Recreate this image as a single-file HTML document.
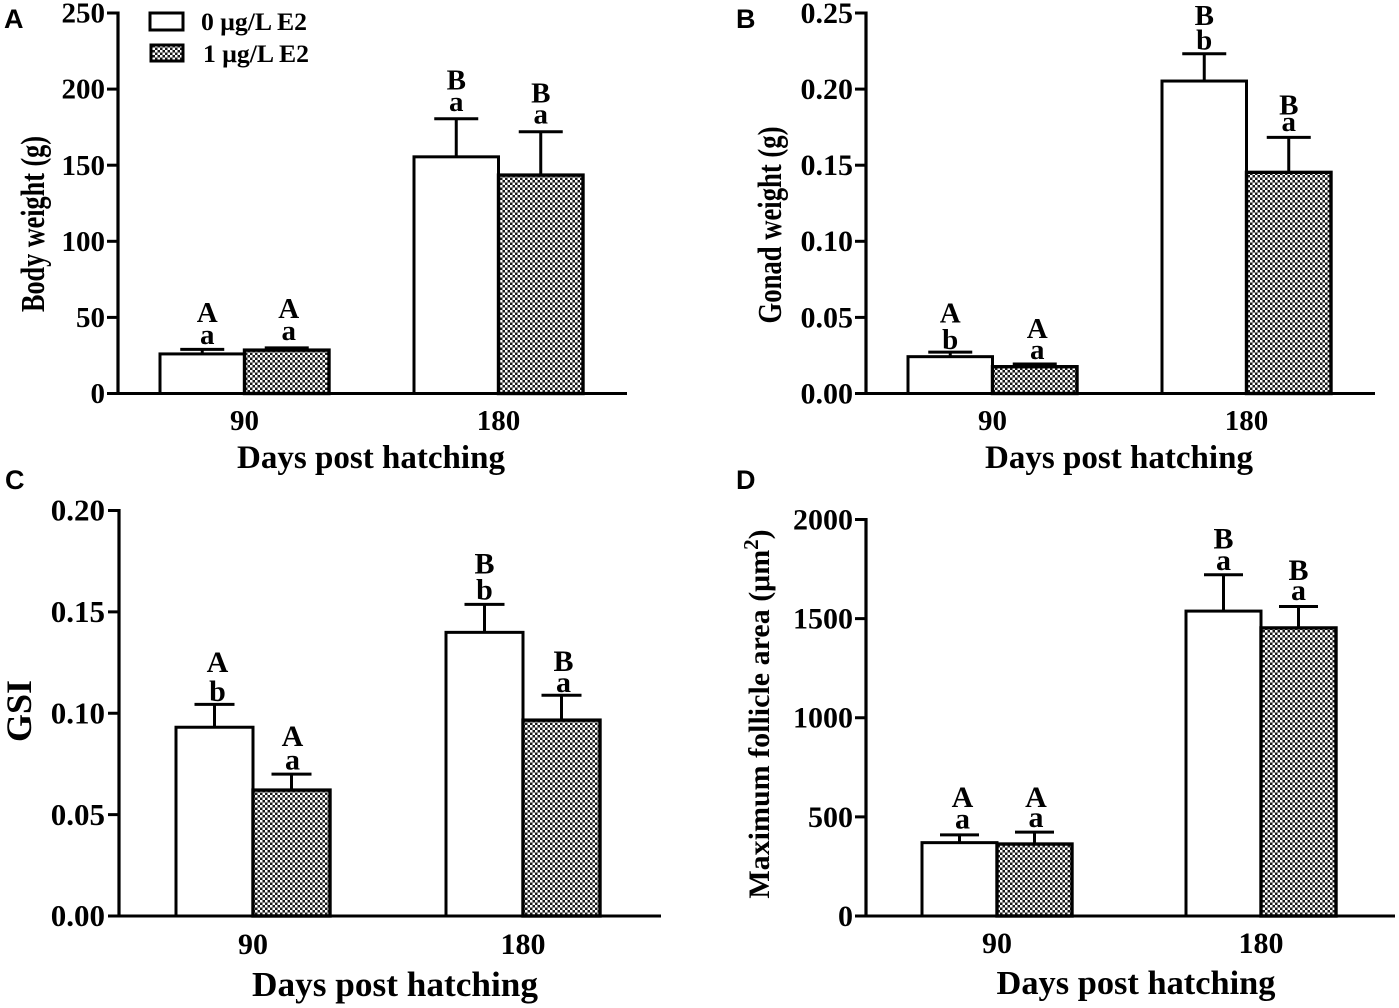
<!DOCTYPE html>
<html lang="en">
<head>
<meta charset="utf-8">
<title>Body weight, gonad weight, GSI and follicle area</title>
<style>
html,body{margin:0;padding:0;background:#fff;}
svg{display:block;}
text{font-family:"Liberation Serif",serif;font-weight:bold;fill:#000;}
.panel-letter{font-family:"Liberation Sans",sans-serif;font-size:27px;}
</style>
</head>
<body>
<svg id="figure" xmlns="http://www.w3.org/2000/svg" width="1399" height="1008" viewBox="0 0 1399 1008">
  <defs>
    <pattern id="checker" patternUnits="userSpaceOnUse" width="5" height="5">
      <rect width="5" height="5" fill="#1a1a1a"/>
      <rect x="0" y="0" width="2.5" height="2.5" fill="#fff"/>
      <rect x="2.5" y="2.5" width="2.5" height="2.5" fill="#fff"/>
    </pattern>
  </defs>

  <text class="panel-letter" x="4" y="28">A</text>
  <text class="panel-letter" x="736" y="28">B</text>
  <text class="panel-letter" x="5" y="489">C</text>
  <text class="panel-letter" x="736" y="489">D</text>

  <g>
    <rect x="150" y="13" width="33" height="17" fill="#fff" stroke="#000" stroke-width="3"/>
    <text x="201" y="30" font-size="25" textLength="106" lengthAdjust="spacingAndGlyphs">0 μg/L E2</text>
    <rect x="151" y="45" width="32" height="16" fill="url(#checker)" stroke="#000" stroke-width="3"/>
    <text x="203" y="62" font-size="25" textLength="106" lengthAdjust="spacingAndGlyphs">1 μg/L E2</text>
  </g>

  <text x="371" y="468" font-size="33" text-anchor="middle" textLength="268" lengthAdjust="spacingAndGlyphs">Days post hatching</text>
  <text x="1119" y="468" font-size="33" text-anchor="middle" textLength="268" lengthAdjust="spacingAndGlyphs">Days post hatching</text>
  <text x="395" y="996" font-size="35" text-anchor="middle" textLength="286" lengthAdjust="spacingAndGlyphs">Days post hatching</text>
  <text x="1136" y="994" font-size="34" text-anchor="middle" textLength="279" lengthAdjust="spacingAndGlyphs">Days post hatching</text>

  <text transform="translate(44 224) rotate(-90)" font-size="34" text-anchor="middle" textLength="176" lengthAdjust="spacingAndGlyphs">Body weight (g)</text>
  <text transform="translate(781 225) rotate(-90)" font-size="34" text-anchor="middle" textLength="197" lengthAdjust="spacingAndGlyphs">Gonad weight (g)</text>
  <text transform="translate(31 711) rotate(-90)" font-size="36" text-anchor="middle">GSI</text>
  <text transform="translate(769 714) rotate(-90)" font-size="30" text-anchor="middle">Maximum follicle area (μm<tspan font-size="21" dy="-11">2</tspan><tspan dy="11">)</tspan></text>

  <g id="panels"></g>
</svg>

<script>
// Shared categories and series
const categories = ['90', '180'];
const seriesNames = ['0 ug/L E2', '1 ug/L E2'];

// Panel A: body weight (g)
const bodyTicks = [0, 50, 100, 150, 200, 250];
const bodyTickLabels = ['0', '50', '100', '150', '200', '250'];
const bodyControl = [26, 155.5];
const bodyE2 = [28.5, 143.5];
const bodyControlUpper = [29, 180.5];
const bodyE2Upper = [30, 172];
const bodyControlLetters = [['A', 'a'], ['B', 'a']];
const bodyE2Letters = [['A', 'a'], ['B', 'a']];

// Panel B: gonad weight (g)
const gonadTicks = [0, 0.05, 0.1, 0.15, 0.2, 0.25];
const gonadTickLabels = ['0.00', '0.05', '0.10', '0.15', '0.20', '0.25'];
const gonadControl = [0.0242, 0.2053];
const gonadE2 = [0.0176, 0.1453];
const gonadControlUpper = [0.0272, 0.2232];
const gonadE2Upper = [0.0194, 0.1683];
const gonadControlLetters = [['A', 'b'], ['B', 'b']];
const gonadE2Letters = [['A', 'a'], ['B', 'a']];

// Panel C: GSI
const gsiTicks = [0, 0.05, 0.1, 0.15, 0.2];
const gsiTickLabels = ['0.00', '0.05', '0.10', '0.15', '0.20'];
const gsiControl = [0.0931, 0.1399];
const gsiE2 = [0.0621, 0.0966];
const gsiControlUpper = [0.1044, 0.1537];
const gsiE2Upper = [0.07, 0.1089];
const gsiControlLetters = [['A', 'b'], ['B', 'b']];
const gsiE2Letters = [['A', 'a'], ['B', 'a']];

// Panel D: maximum follicle area
const follicleTicks = [0, 500, 1000, 1500, 2000];
const follicleTickLabels = ['0', '500', '1000', '1500', '2000'];
const follicleControl = [370, 1538];
const follicleE2 = [363, 1453];
const follicleControlUpper = [409, 1721];
const follicleE2Upper = [423, 1561];
const follicleControlLetters = [['A', 'a'], ['B', 'a']];
const follicleE2Letters = [['A', 'a'], ['B', 'a']];

const SVG_NS = 'http://www.w3.org/2000/svg';
const root = document.getElementById('panels');

function make(parent, tag, attrs, text) {
  const el = document.createElementNS(SVG_NS, tag);
  for (const k in attrs) el.setAttribute(k, attrs[k]);
  if (text !== undefined) el.textContent = text;
  parent.appendChild(el);
  return el;
}

function drawPanel(p) {
  const g = make(root, 'g', {});
  
  

  const yScale = function (v) {
    return p.y0 - (v / p.yMax) * (p.y0 - p.yTop);
  };
  const groupCentre = function (i) {
    return p.firstCentre + i * p.groupStep;
  };

  // bars + error bars + letters
  const seriesValues = [p.control, p.e2];
  const seriesUpper = [p.controlUpper, p.e2Upper];
  const seriesLetters = [p.controlLetters, p.e2Letters];
  seriesValues.forEach(function (values, s) {
    values.forEach(function (v, i) {
      const left = s === 0 ? groupCentre(i) - p.barW : groupCentre(i);
      const mid = left + p.barW / 2;
      const top = yScale(v);
      const capY = yScale(seriesUpper[s][i]);

      const stem = make(g, 'line', { x1: mid, x2: mid, y1: top, y2: capY, stroke: '#000', 'stroke-width': 3 });
      
      

      const cap = make(g, 'line', { x1: mid - p.capW / 2, x2: mid + p.capW / 2, y1: capY, y2: capY, stroke: '#000', 'stroke-width': 3 });
      
      

      const bar = make(g, 'rect', {
        x: left, y: top, width: p.barW, height: p.y0 - top,
        fill: s === 0 ? '#fff' : 'url(#checker)',
        stroke: '#000', 'stroke-width': s === 0 ? 3 : 3.4
      });
      
      

      const gaps = p.letterGaps[s][i];
      const shift = p.letterShifts[s][i];
      const upper = make(g, 'text', { x: mid + shift, y: capY - gaps[0], 'font-size': p.letterSize, 'text-anchor': 'middle' }, seriesLetters[s][i][0]);
      
      

      const lower = make(g, 'text', { x: mid + shift, y: capY - gaps[1], 'font-size': p.letterSize, 'text-anchor': 'middle' }, seriesLetters[s][i][1]);
      
      
    });
  });

  // y axis
  const yAxis = make(g, 'line', { x1: p.axisX, x2: p.axisX, y1: yScale(p.yMax) - 1.5, y2: p.y0 + 1.5, stroke: '#000', 'stroke-width': 3.2 });
  
  

  p.ticks.forEach(function (t, i) {
    const y = yScale(t);
    const tick = make(g, 'line', { x1: p.axisX - 11, x2: p.axisX, y1: y, y2: y, stroke: '#000', 'stroke-width': 3 });
    
    

    const label = make(g, 'text', { x: p.axisX - p.labelGap, y: y + p.tickSize * 0.33, 'font-size': p.tickSize, 'text-anchor': 'end' }, p.tickLabels[i]);
    
    
  });

  // x axis
  const xAxis = make(g, 'line', { x1: p.axisX - 11, x2: p.xEnd, y1: p.y0, y2: p.y0, stroke: '#000', 'stroke-width': 3 });
  
  

  categories.forEach(function (c, i) {
    const label = make(g, 'text', { x: groupCentre(i), y: p.xLabelY, 'font-size': p.xLabelSize, 'text-anchor': 'middle' }, c);
    
    
  });
}

drawPanel({
  id: 'a', axisX: 118, xEnd: 627, y0: 393.5, yTop: 13, yMax: 250,
  firstCentre: 244.5, groupStep: 254, barW: 84.5, capW: 44,
  ticks: bodyTicks, tickLabels: bodyTickLabels, tickSize: 29, labelGap: 13,
  control: bodyControl, e2: bodyE2, controlUpper: bodyControlUpper, e2Upper: bodyE2Upper,
  controlLetters: bodyControlLetters, e2Letters: bodyE2Letters,
  letterGaps: [[[27.6, 5.6], [29.4, 8]], [[30, 8], [29.4, 8.4]]],
  letterShifts: [[5, 0], [2, 0]],
  letterSize: 29, xLabelY: 430, xLabelSize: 29
});

drawPanel({
  id: 'b', axisX: 866, xEnd: 1375, y0: 393.5, yTop: 13, yMax: 0.25,
  firstCentre: 992.5, groupStep: 254, barW: 84.5, capW: 44,
  ticks: gonadTicks, tickLabels: gonadTickLabels, tickSize: 30, labelGap: 13,
  control: gonadControl, e2: gonadE2, controlUpper: gonadControlUpper, e2Upper: gonadE2Upper,
  controlLetters: gonadControlLetters, e2Letters: gonadE2Letters,
  letterGaps: [[[29.6, 3.3], [29, 4.4]], [[26, 5], [23, 6.3]]],
  letterShifts: [[0, 0], [2.5, 0]],
  letterSize: 29, xLabelY: 430, xLabelSize: 29
});

drawPanel({
  id: 'c', axisX: 119, xEnd: 661, y0: 916, yTop: 510.5, yMax: 0.2,
  firstCentre: 253, groupStep: 270, barW: 77, capW: 40,
  ticks: gsiTicks, tickLabels: gsiTickLabels, tickSize: 31, labelGap: 14,
  control: gsiControl, e2: gsiE2, controlUpper: gsiControlUpper, e2Upper: gsiE2Upper,
  controlLetters: gsiControlLetters, e2Letters: gsiE2Letters,
  letterGaps: [[[32.5, 3.4], [30.7, 4.7]], [[28, 4.5], [24.3, 3.3]]],
  letterShifts: [[3, 0], [1, 2]],
  letterSize: 30, xLabelY: 954, xLabelSize: 30
});

drawPanel({
  id: 'd', axisX: 866, xEnd: 1395, y0: 916, yTop: 519.5, yMax: 2000,
  firstCentre: 997, groupStep: 264, barW: 75, capW: 39,
  ticks: follicleTicks, tickLabels: follicleTickLabels, tickSize: 30, labelGap: 13,
  control: follicleControl, e2: follicleE2, controlUpper: follicleControlUpper, e2Upper: follicleE2Upper,
  controlLetters: follicleControlLetters, e2Letters: follicleE2Letters,
  letterGaps: [[[28, 6.4], [26.4, 4.7]], [[25.3, 5.3], [26.3, 6.3]]],
  letterShifts: [[3, 0], [1.5, 0]],
  letterSize: 30, xLabelY: 953, xLabelSize: 30
});
</script>
</body>
</html>
